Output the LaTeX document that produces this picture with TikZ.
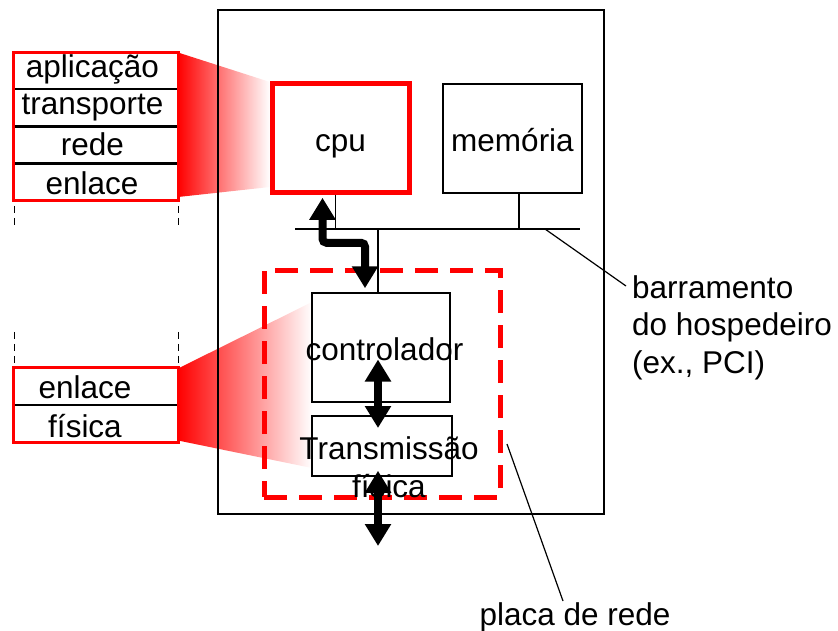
\documentclass[tikz,border=0pt]{standalone}
\usepackage{fontspec}
\setmainfont{Liberation Sans}
\usetikzlibrary{arrows.meta,positioning,calc}
\begin{document}
\begin{tikzpicture}[x=1pt,y=-1pt,
  every node/.style={font=\fontsize{31.5}{37.5}\selectfont, inner sep=0pt},
  row/.style={draw=black, line width=1.2pt, minimum width=164pt, minimum height=36pt, text height=25pt, text depth=11pt},
  frame/.style={draw=red, line width=3pt},
  thinbox/.style={draw=black, line width=1.5pt},
  stackdash/.style={line width=1.3pt, dash pattern=on 7pt off 5pt},
  bigarrow/.style={line width=8pt, {Triangle[length=22pt,width=25pt]}-{Triangle[length=22pt,width=25pt]}},
  wire/.style={line width=1.5pt},
  pointer/.style={line width=1.2pt},
  reddash/.style={draw=red, line width=5pt, dash pattern=on 23pt off 12pt}
]
\useasboundingbox (0,0) rectangle (838,630);

% gradient wedges (drawn first)
\coordinate (wA) at (178,52.5);
\coordinate (wB) at (270,82);
\coordinate (wC) at (270,187);
\coordinate (wD) at (178,197);
\shade[left color=red, right color=white] (wA) -- (wB) -- (wC) -- (wD) -- cycle;
\coordinate (vA) at (178,368.5);
\coordinate (vB) at (312,302);
\coordinate (vC) at (312,468);
\coordinate (vD) at (178,440.5);
\shade[left color=red, right color=white] (vA) -- (vB) -- (vC) -- (vD) -- cycle;

% host box
\node[thinbox, minimum width=386pt, minimum height=504pt] (host) at (411,262) {};

% top protocol stack
\node[row] (r1) at (96,70.6) {aplicação\hspace*{7pt}};
\node[row, below=0pt of r1] (r2) {transporte\hspace*{7pt}};
\node[row, below=0pt of r2, text height=28pt, text depth=8pt] (r3) {rede\hspace*{7pt}};
\node[row, below=0pt of r3, text height=30pt, text depth=6pt] (r4) {enlace\hspace*{8pt}};
\draw[frame] (r1.north west) rectangle (r4.south east);
\draw[stackdash] ([xshift=1pt,yshift=-5pt]r4.south west) -- ++(0,21);
\draw[stackdash] ([yshift=-5pt]r4.south east) -- ++(0,21);

% lower protocol stack
\node[row, text height=29.5pt, text depth=6.5pt] (l1) at (96,386.5) {enlace\hspace*{22pt}};
\node[row, below=0pt of l1, text height=32pt, text depth=4pt] (l2) {física\hspace*{22pt}};
\draw[frame] (l1.north west) rectangle (l2.south east);
\draw[stackdash] ([xshift=1pt,yshift=36pt]l1.north west) -- ([xshift=1pt]l1.north west);
\draw[stackdash] ([yshift=36pt]l1.north east) -- (l1.north east);

% cpu and memory
\node[draw=red, line width=5pt, minimum width=137pt, minimum height=108.5pt, text height=26pt, text depth=0pt] (cpu) at (340.5,138) {cpu};
\node[thinbox, minimum width=139pt, minimum height=109pt, text height=25pt, text depth=0pt] (mem) at (512.5,138.5) {memória};

% bus
\coordinate (busL) at (295,229);
\coordinate (busR) at (580,229);
\draw[line width=2pt] (busL) -- (busR);
\draw[wire] ([xshift=-5pt]cpu.south) -- ([xshift=-5pt]cpu.south |- busL);
\draw[wire] ([xshift=6.5pt]mem.south) -- ([xshift=6.5pt]mem.south |- busL);

% network card
\node[reddash, minimum width=236pt, minimum height=227pt] (nic) at (382,383.5) {};
\node[thinbox, fill=white, minimum width=138pt, minimum height=109pt] (ctrl) at (381,347.5) {};
\node[thinbox, fill=white, minimum width=140pt, minimum height=60pt] (trans) at (382,446) {};
\node[anchor=base] (ctrltext) at (384.5,360) {controlador};
\node[anchor=base, align=center] (transtext) at (389,497) {Transmissão\\física};
\draw[wire] ([xshift=-3pt]ctrl.north |- busL) -- ([xshift=-3pt]ctrl.north);

% thick arrows
\draw[bigarrow, rounded corners=4pt] ([xshift=-18pt,yshift=-3pt]cpu.south) -- ++(0,45) -| ([xshift=-16pt,yshift=4pt]ctrl.north);
\draw[bigarrow] ([xshift=-3pt,yshift=-12pt]ctrl.center) -- ([xshift=-4pt,yshift=18pt]trans.center);
\coordinate (out) at (378,546);
\draw[bigarrow] ([xshift=-4pt,yshift=6pt]trans.south) -- (out);

% labels
\node[anchor=base west, align=left] (buslabel) at (632,373) {barramento\\do hospedeiro\\(ex., PCI)};
\coordinate (busP) at (545,229);
\draw[pointer] (busP) -- (626,286);
\node[anchor=base] (niclabel) at (575,625) {placa de rede};
\coordinate (nicP) at (507,444);
\draw[pointer] (nicP) -- (563,601);
\end{tikzpicture}
\end{document}
